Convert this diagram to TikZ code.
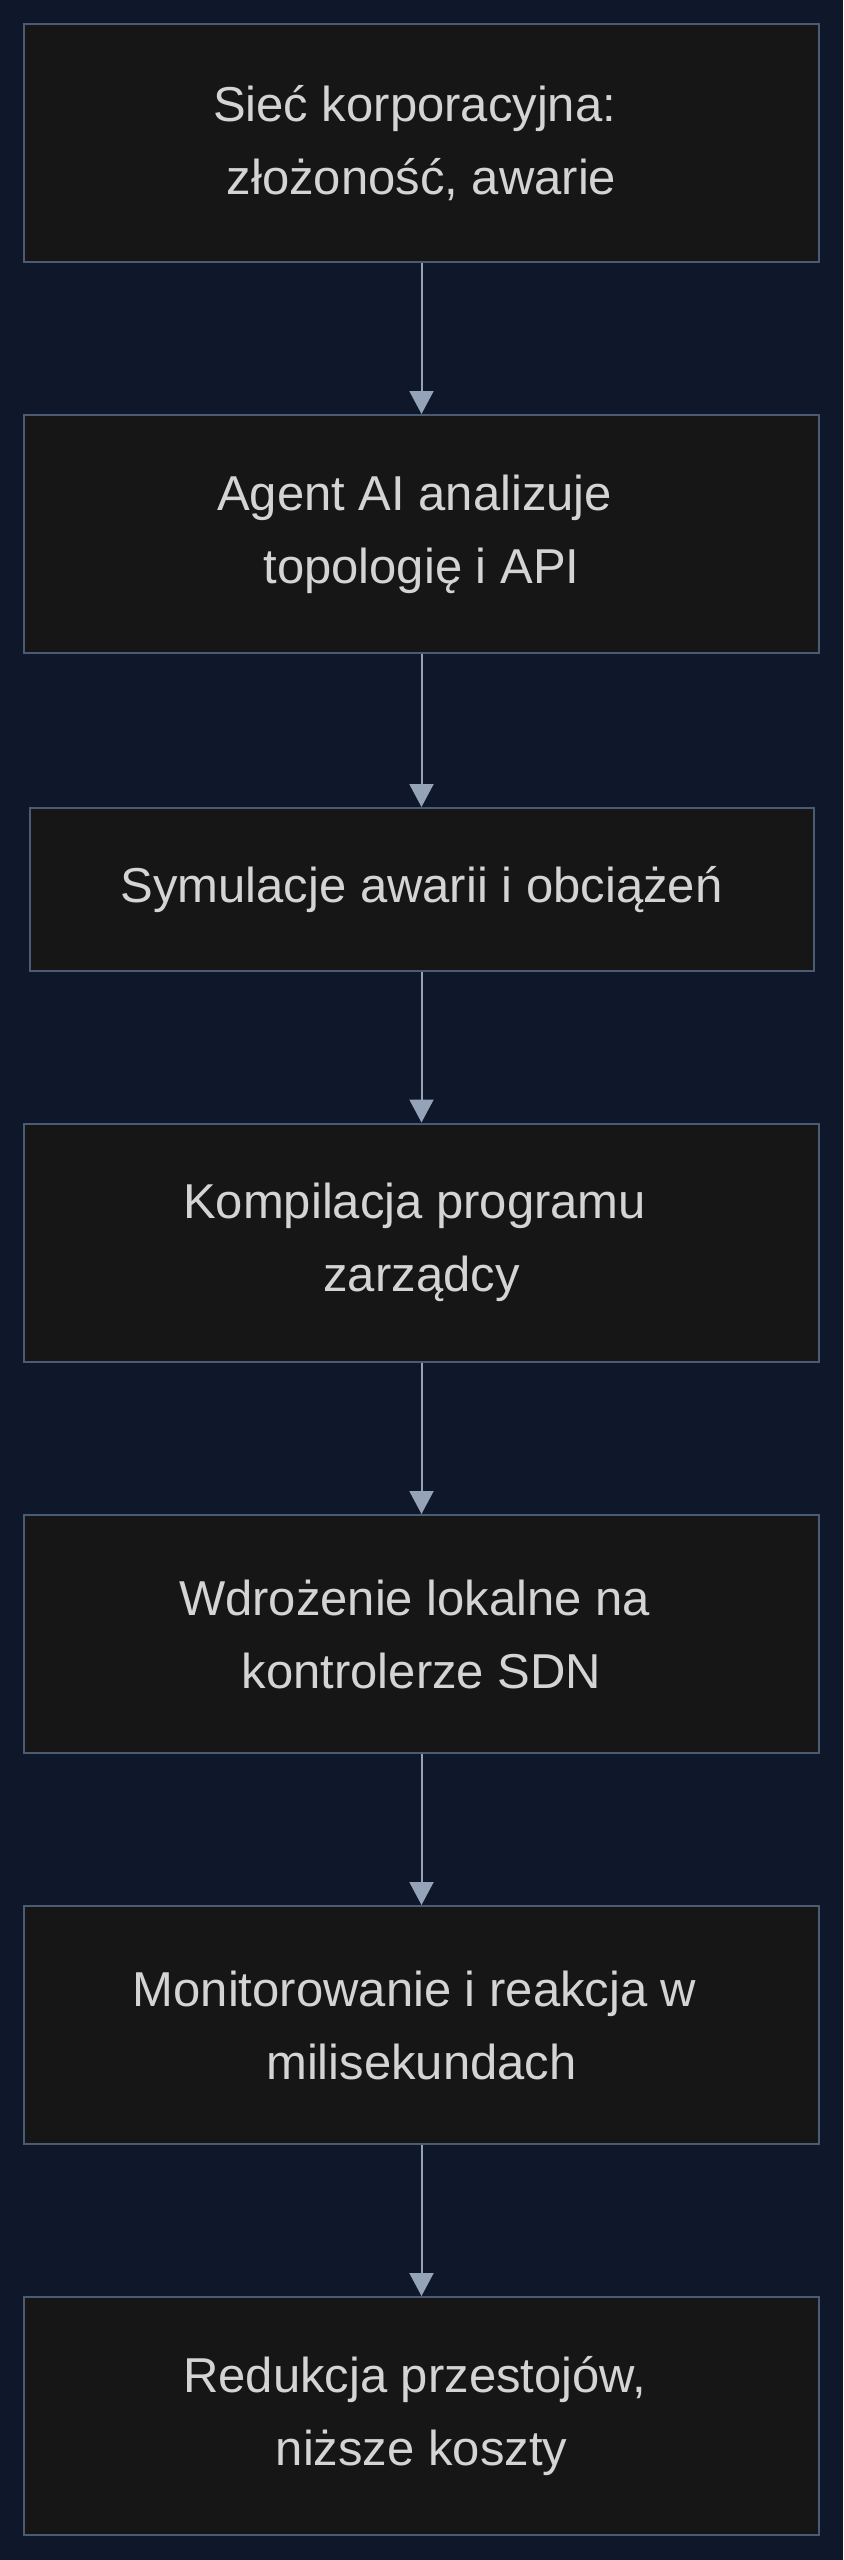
\documentclass[tikz,border=0pt]{standalone}
\usepackage{fontspec}
\setmainfont{Liberation Sans}
\usetikzlibrary{arrows.meta}
\definecolor{bg}{HTML}{0F172A}
\definecolor{boxfill}{HTML}{161616}
\definecolor{boxline}{HTML}{4B5B73}
\definecolor{arrowc}{HTML}{94A3B8}
\definecolor{txt}{HTML}{D4D4D4}
\newcommand{\tsp}{\hspace*{0.28em}}

\begin{document}
\begin{tikzpicture}[x=0.5pt, y=-0.5pt,
    box/.style={draw=boxline, fill=boxfill, line width=1pt, minimum width=397.5pt, minimum height=119pt, inner sep=0pt, text=txt, align=center, font=\fontsize{24.5}{36.5}\selectfont},
    flow/.style={draw=arrowc, line width=1pt, -{Triangle[length=11.5pt, width=12pt]}}]
    \fill[bg] (0,0) rectangle (843,2560);
    \useasboundingbox (0,0) rectangle (843,2560);
    \node[box] (N) at (421.5,143) {Sieć korporacyjna:\tsp\\ złożoność, awarie};
    \node[box] (A) at (421.5,534) {Agent AI analizuje\tsp\\ topologię i API};
    \node[box, minimum width=392pt, minimum height=81.5pt] (S) at (421.5,889.5) {Symulacje awarii i obciążeń};
    \node[box] (K) at (421.5,1242.5) {Kompilacja programu\tsp\\ zarządcy};
    \node[box] (W) at (421.5,1634) {Wdrożenie lokalne na\tsp\\ kontrolerze SDN};
    \node[box] (M) at (421.5,2025) {Monitorowanie i reakcja w\tsp\\ milisekundach};
    \node[box] (R) at (421.5,2416) {Redukcja przestojów,\tsp\\ niższe koszty};
    \path[flow] (N)--(A);
    \path[flow] (A)--(S);
    \path[flow] (S)--(K);
    \path[flow] (K)--(W);
    \path[flow] (W)--(M);
    \path[flow] (M)--(R);
\end{tikzpicture}
\end{document}
